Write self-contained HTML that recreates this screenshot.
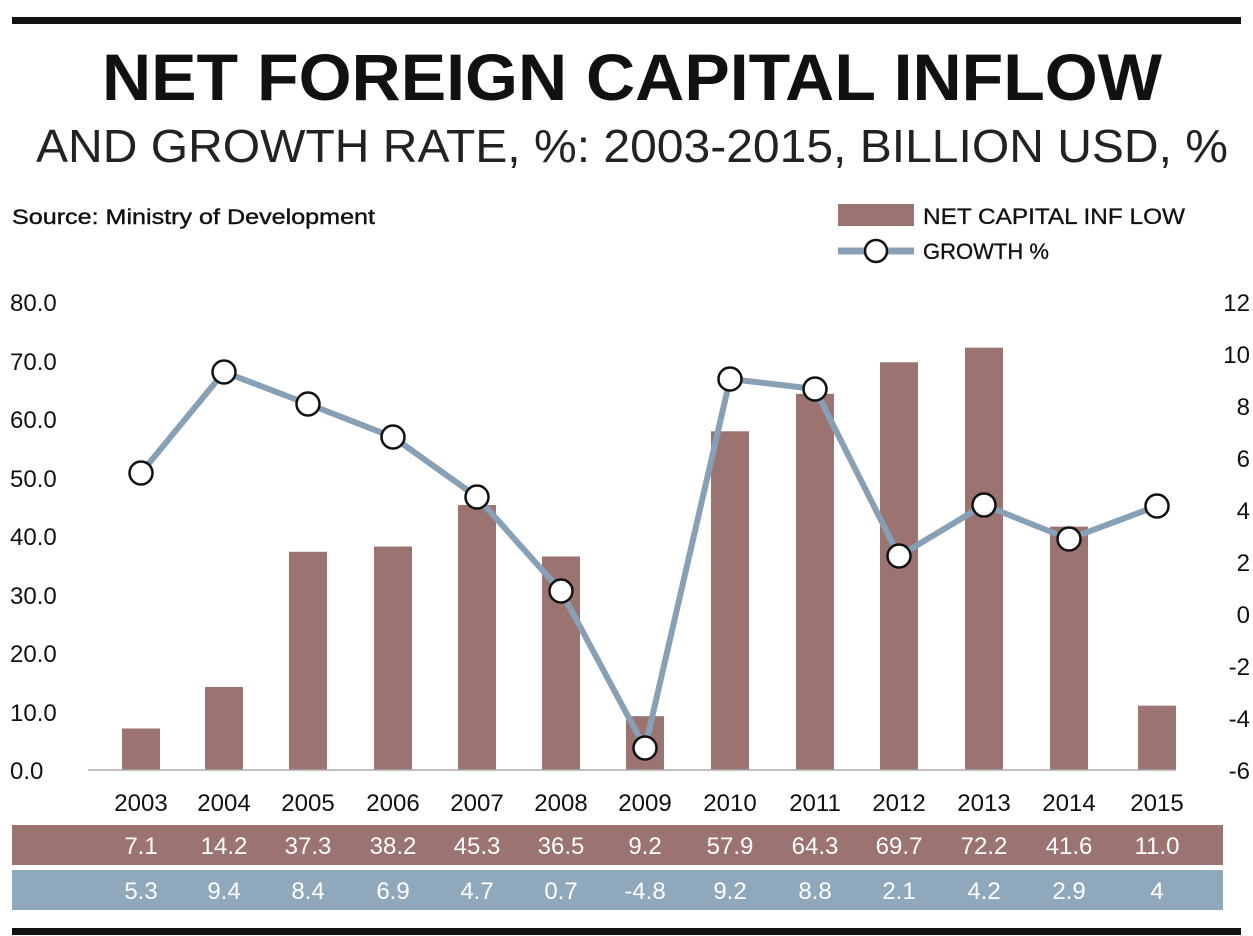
<!DOCTYPE html>
<html><head><meta charset="utf-8"><style>
html,body{margin:0;padding:0;background:#fff;}
body{width:1253px;height:936px;overflow:hidden;position:relative;font-family:"Liberation Sans",sans-serif;}
</style></head><body>
<svg width="1253" height="936" xmlns="http://www.w3.org/2000/svg" style="position:absolute;left:0;top:0">
<rect x="12" y="17" width="1229" height="7" fill="#111"/>
<rect x="12" y="928" width="1229" height="7" fill="#111"/>
<text x="632" y="100" text-anchor="middle" font-family="Liberation Sans" font-weight="bold" font-size="66" fill="#111" textLength="1060" lengthAdjust="spacingAndGlyphs">NET FOREIGN CAPITAL INFLOW</text>
<text x="632" y="162" text-anchor="middle" font-family="Liberation Sans" font-size="46" fill="#222" textLength="1192" lengthAdjust="spacingAndGlyphs">AND GROWTH RATE, %: 2003-2015, BILLION USD, %</text>
<text x="12" y="224" font-size="21" fill="#111" stroke="#111" stroke-width="0.4" textLength="363" lengthAdjust="spacingAndGlyphs">Source: Ministry of Development</text>
<rect x="838" y="204" width="76" height="22" fill="#9b7472"/>
<text x="923" y="224" font-size="22" fill="#111" stroke="#111" stroke-width="0.3" textLength="262" lengthAdjust="spacingAndGlyphs">NET CAPITAL INF LOW</text>
<line x1="838" y1="251" x2="914" y2="251" stroke="#87a0b5" stroke-width="7"/>
<circle cx="876" cy="251" r="11" fill="#fff" stroke="#111" stroke-width="2.5"/>
<text x="923" y="259" font-size="22" fill="#111" stroke="#111" stroke-width="0.3">GROWTH %</text>
<g font-size="24" fill="#111">
<text x="10" y="311">80.0</text><text x="10" y="370">70.0</text><text x="10" y="428">60.0</text>
<text x="10" y="487">50.0</text><text x="10" y="545">40.0</text><text x="10" y="604">30.0</text>
<text x="10" y="662">20.0</text><text x="10" y="721">10.0</text><text x="10" y="779">0.0</text>
</g>
<g font-size="24" fill="#111" text-anchor="end">
<text x="1250" y="311">12</text><text x="1250" y="363">10</text><text x="1250" y="415">8</text>
<text x="1250" y="467">6</text><text x="1250" y="519">4</text><text x="1250" y="571">2</text>
<text x="1250" y="623">0</text><text x="1250" y="675">-2</text><text x="1250" y="727">-4</text><text x="1250" y="779">-6</text>
</g>
<g fill="#9b7472" id="bars"></g>
<line x1="88" y1="770" x2="1176" y2="770" stroke="#aaa" stroke-width="1.5"/>
<polyline id="ln" fill="none" stroke="#87a0b5" stroke-width="6" stroke-linejoin="round"/>
<g id="pts"></g>
<rect x="12" y="825" width="1211" height="40" fill="#9b7472"/>
<rect x="12" y="870" width="1211" height="40" fill="#8fa8bc"/>
<g id="lbl"></g>
</svg>
<script>
var xs=[141,224,308,393,477,561,645,730,815,899,984,1069,1157];
var b=[7.1,14.2,37.3,38.2,45.3,36.5,9.2,57.9,64.3,69.7,72.2,41.6,11.0];
var g=[5.3,9.4,8.4,6.9,4.7,0.7,-4.8,9.2,8.8,2.1,4.2,2.9,4];
var gy=[473,372,404,437,497,591,748,379,389,556,505,539,506];
var yr=[2003,2004,2005,2006,2007,2008,2009,2010,2011,2012,2013,2014,2015];
var ns="http://www.w3.org/2000/svg";
function el(t,a,p,txt){var e=document.createElementNS(ns,t);for(var k in a)e.setAttribute(k,a[k]);if(txt!==undefined)e.textContent=txt;document.getElementById(p).appendChild(e);}
var pts=[];
for(var i=0;i<13;i++){
 var h=b[i]*5.85;
 el('rect',{x:xs[i]-19,y:770-h,width:38,height:h},'bars');
 var y=gy[i]; pts.push(xs[i]+','+y);
 el('circle',{cx:xs[i],cy:y,r:11.5,fill:'#fff',stroke:'#111','stroke-width':2.5},'pts');
 el('text',{x:xs[i],y:811,'text-anchor':'middle','font-size':24,fill:'#111'},'lbl',yr[i]);
 el('text',{x:xs[i],y:854,'text-anchor':'middle','font-size':24,fill:'#fff'},'lbl',b[i].toFixed(1));
 el('text',{x:xs[i],y:899,'text-anchor':'middle','font-size':24,fill:'#fff'},'lbl',String(g[i]));
}
document.getElementById('ln').setAttribute('points',pts.join(' '));
</script>
</body></html>
